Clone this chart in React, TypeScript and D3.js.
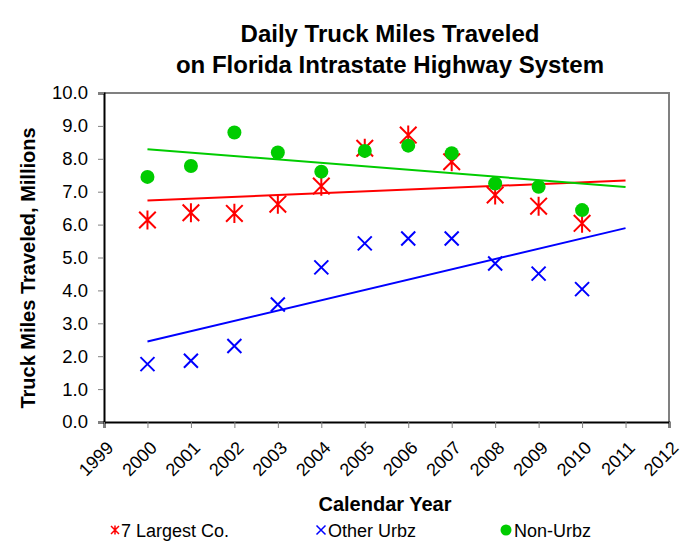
import React, { useEffect, useRef } from "react";
import * as d3 from "d3";

// Data
const years = [2000, 2001, 2002, 2003, 2004, 2005, 2006, 2007, 2008, 2009, 2010];
const largestCo = [6.14, 6.36, 6.34, 6.62, 7.17, 8.32, 8.72, 7.91, 6.9, 6.56, 6.04];
const otherUrbz = [1.76, 1.86, 2.31, 3.57, 4.7, 5.43, 5.58, 5.58, 4.82, 4.51, 4.04];
const nonUrbz = [7.45, 7.78, 8.8, 8.19, 7.61, 8.24, 8.4, 8.17, 7.25, 7.15, 6.44];
const xTicks = d3.range(1999, 2013);
const yTicks = d3.range(0, 11);

const RED = "#ff0000";
const BLUE = "#0000ff";
const GREEN = "#00cc00";
const FONT = "'Liberation Sans', Arial, sans-serif";

// least squares trend, drawn from first year to one year past the last
const trend = (xs: number[], ys: number[]) => {
  const mx = d3.mean(xs) as number;
  const my = d3.mean(ys) as number;
  const sxy = d3.sum(xs, (x, i) => (x - mx) * (ys[i] - my));
  const sxx = d3.sum(xs, (x) => (x - mx) ** 2);
  const b = sxy / sxx;
  const a = my - b * mx;
  const x0 = xs[0];
  const x1 = xs[xs.length - 1] + 1;
  return [
    [x0, a + b * x0],
    [x1, a + b * x1],
  ];
};

const App: React.FC = () => {
  const ref = useRef<SVGSVGElement>(null);

  useEffect(() => {
    if (!ref.current) return;
    const svg = d3.select(ref.current);
    svg.selectAll("*").remove();

    const left = 104, right = 669, top = 93, bottom = 422;
    const x = d3.scaleLinear().domain([1999, 2012]).range([left, right]);
    const y = d3.scaleLinear().domain([0, 10]).range([bottom, top]);

    // outer chart border
    svg
      .append("rect")
      .attr("x", 4.5)
      .attr("y", 6.5)
      .attr("width", 700)
      .attr("height", 600)
      .attr("fill", "white")
      .attr("stroke", "#b0b0b0");

    // title
    const title = svg
      .append("text")
      .attr("text-anchor", "middle")
      .style("font-family", FONT)
      .style("font-weight", "bold")
      .style("font-size", "24px");
    title.append("tspan").attr("x", 390).attr("y", 42).text("Daily Truck Miles Traveled");
    title.append("tspan").attr("x", 390).attr("y", 73).text("on Florida Intrastate Highway System");

    // plot frame (top/right gray)
    svg
      .append("path")
      .attr("d", `M${left},${top}H${right}V${bottom}`)
      .attr("fill", "none")
      .attr("stroke", "#808080")
      .attr("stroke-width", 2);

    // y axis
    const yAxis = svg
      .append("g")
      .attr("transform", `translate(${left},0)`)
      .call(d3.axisLeft(y).tickValues(yTicks).tickFormat(d3.format(".1f")).tickSize(6).tickPadding(10));
    yAxis.select(".domain").attr("stroke", "#000").attr("stroke-width", 2);
    yAxis.selectAll(".tick line").attr("stroke", "#808080");
    yAxis.selectAll("text").style("font-family", FONT).style("font-size", "18.5px").attr("fill", "#000");

    // x axis
    const xAxis = svg
      .append("g")
      .attr("transform", `translate(0,${bottom})`)
      .call(d3.axisBottom(x).tickValues(xTicks).tickFormat(d3.format("d")).tickSize(6));
    xAxis.select(".domain").attr("stroke", "#000").attr("stroke-width", 2);
    xAxis.selectAll(".tick line").attr("stroke", "#808080");
    xAxis
      .selectAll("text")
      .style("font-family", FONT)
      .style("font-size", "18px")
      .attr("fill", "#000")
      .attr("text-anchor", "end")
      .attr("dy", null)
      .attr("y", 0)
      .attr("transform", "translate(10,27) rotate(-45)");

    // axis titles
    svg
      .append("text")
      .attr("x", 385)
      .attr("y", 511)
      .attr("text-anchor", "middle")
      .style("font-family", FONT)
      .style("font-weight", "bold")
      .style("font-size", "20px")
      .text("Calendar Year");
    svg
      .append("text")
      .attr("transform", `translate(35,268) rotate(-90)`)
      .attr("text-anchor", "middle")
      .style("font-family", FONT)
      .style("font-weight", "bold")
      .style("font-size", "20px")
      .text("Truck Miles Traveled, Millions");

    const line = d3
      .line<number[]>()
      .x((d) => x(d[0]))
      .y((d) => y(d[1]));

    const asterisk = (s: number) =>
      `M${-s},${-s}L${s},${s}M${-s},${s}L${s},${-s}M0,${-s * 1.15}L0,${s * 1.15}`;
    const cross = (s: number) => `M${-s},${-s}L${s},${s}M${-s},${s}L${s},${-s}`;

    const plot = svg.append("g");

    // trend lines
    const series = [
      { vals: largestCo, color: RED },
      { vals: otherUrbz, color: BLUE },
      { vals: nonUrbz, color: GREEN },
    ];
    series.forEach((s) => {
      plot
        .append("path")
        .attr("d", line(trend(years, s.vals)))
        .attr("fill", "none")
        .attr("stroke", s.color)
        .attr("stroke-width", 2);
    });

    // Other Urbz markers
    plot
      .selectAll(".other")
      .data(otherUrbz)
      .enter()
      .append("path")
      .attr("transform", (d, i) => `translate(${x(years[i])},${y(d)})`)
      .attr("d", cross(7))
      .attr("stroke", BLUE)
      .attr("stroke-width", 2)
      .attr("fill", "none");

    // 7 Largest markers
    plot
      .selectAll(".largest")
      .data(largestCo)
      .enter()
      .append("path")
      .attr("transform", (d, i) => `translate(${x(years[i])},${y(d)})`)
      .attr("d", asterisk(8.3))
      .attr("stroke", RED)
      .attr("stroke-width", 2)
      .attr("fill", "none");

    // Non-Urbz markers
    plot
      .selectAll(".non")
      .data(nonUrbz)
      .enter()
      .append("circle")
      .attr("cx", (d, i) => x(years[i]))
      .attr("cy", (d) => y(d))
      .attr("r", 7)
      .attr("fill", GREEN);

    // legend
    const leg = svg.append("g").style("font-family", FONT).style("font-size", "18px");
    const ly = 530;
    leg
      .append("path")
      .attr("transform", `translate(115,${ly})`)
      .attr("d", asterisk(4))
      .attr("stroke", RED)
      .attr("stroke-width", 1.5);
    leg.append("text").attr("x", 121).attr("y", ly + 6.5).text("7 Largest Co.");
    leg
      .append("path")
      .attr("transform", `translate(321,${ly})`)
      .attr("d", cross(4.5))
      .attr("stroke", BLUE)
      .attr("stroke-width", 1.5);
    leg.append("text").attr("x", 328).attr("y", ly + 6.5).text("Other Urbz");
    leg.append("circle").attr("cx", 506).attr("cy", ly).attr("r", 5.5).attr("fill", GREEN);
    leg.append("text").attr("x", 514).attr("y", ly + 6.5).text("Non-Urbz");
  }, []);

  return <svg ref={ref} width={693} height={552} style={{ display: "block", margin: -8 }} />;
};

export default App;
